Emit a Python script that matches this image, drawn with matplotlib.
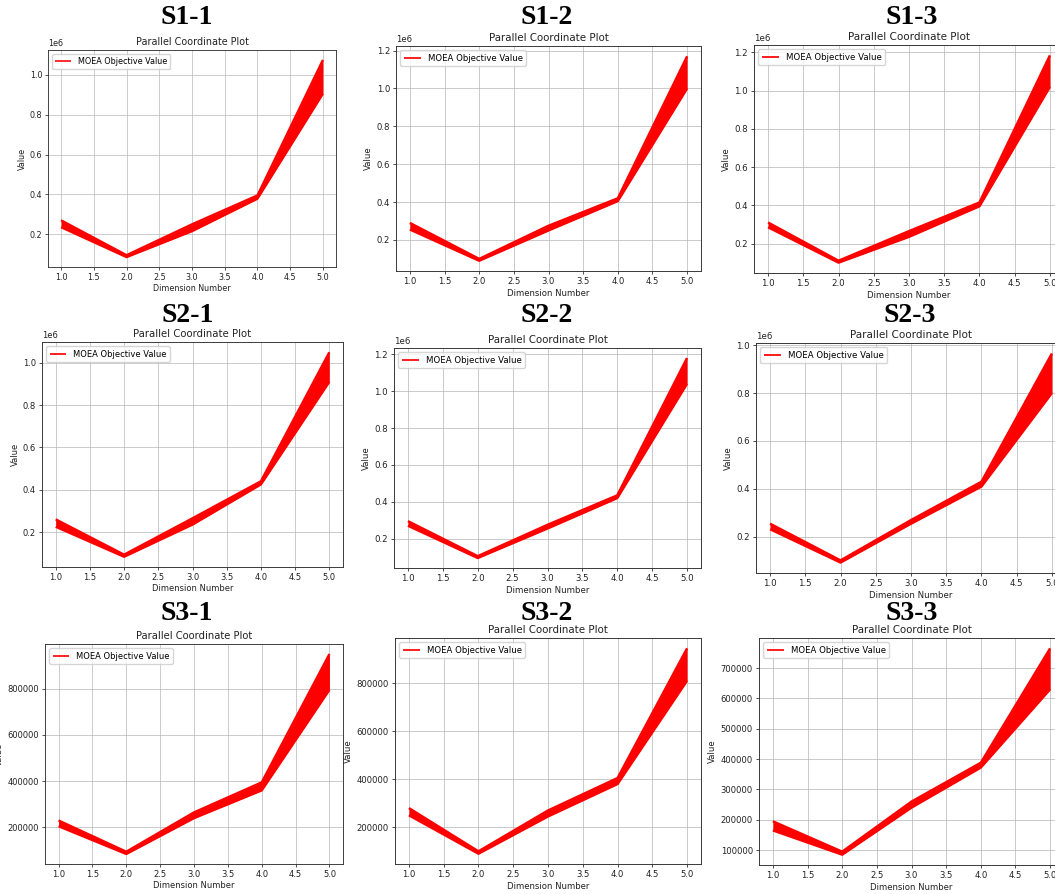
import matplotlib
matplotlib.use("Agg")
import matplotlib.pyplot as plt

# ---- data ----
dims = [1, 2, 3, 4, 5]
panel_names = ["S1-1", "S1-2", "S1-3", "S2-1", "S2-2", "S2-3", "S3-1", "S3-2", "S3-3"]

# lower / upper envelope of the MOEA objective values at each dimension
s11_lo = [235000, 85000, 215000, 378000, 905000]
s11_hi = [270000, 95000, 250000, 395000, 1075000]
s12_lo = [255000, 90000, 250000, 405000, 1000000]
s12_hi = [290000, 100000, 275000, 420000, 1170000]
s13_lo = [285000, 100000, 235000, 395000, 1020000]
s13_hi = [310000, 110000, 265000, 415000, 1185000]
s21_lo = [225000, 83000, 235000, 425000, 910000]
s21_hi = [260000, 93000, 265000, 440000, 1050000]
s22_lo = [270000, 95000, 255000, 420000, 1040000]
s22_hi = [295000, 105000, 275000, 435000, 1180000]
s23_lo = [232000, 93000, 255000, 410000, 800000]
s23_hi = [255000, 102000, 270000, 430000, 965000]
s31_lo = [205000, 85000, 240000, 360000, 795000]
s31_hi = [230000, 95000, 265000, 395000, 950000]
s32_lo = [250000, 90000, 245000, 380000, 810000]
s32_hi = [280000, 100000, 270000, 405000, 945000]
s33_lo = [165000, 85000, 240000, 372000, 630000]
s33_hi = [195000, 95000, 260000, 388000, 765000]

lows = [s11_lo, s12_lo, s13_lo, s21_lo, s22_lo, s23_lo, s31_lo, s32_lo, s33_lo]
highs = [s11_hi, s12_hi, s13_hi, s21_hi, s22_hi, s23_hi, s31_hi, s32_hi, s33_hi]

# ---- layout (pixel boxes: left, right, top, bottom) ----
W, H = 1055, 894
boxes = [
    (48, 336, 50, 267), (396, 701, 46, 271), (754, 1064, 45, 273),
    (42, 343, 342, 567), (394, 701, 348, 568), (756, 1066, 343, 573),
    (45, 343, 644, 864), (395, 701, 638, 864), (759, 1064, 638, 865),
]
head_pos = [
    (187, 18), (547, 18), (912, 18),
    (188, 316), (547, 316), (910, 316),
    (187, 613), (547, 613), (912, 613),
]

fig = plt.figure(figsize=(W / 100, H / 100), dpi=100)
fig.patch.set_facecolor("white")

for i in range(9):
    l, r, t, b = boxes[i]
    ax = fig.add_axes([l / W, 1 - b / H, (r - l) / W, (b - t) / H])
    s = (r - l) / 496.0
    ax.fill_between(dims, lows[i], highs[i], color="red", lw=0, zorder=2)
    ax.plot(dims, lows[i], color="red", lw=2.8 * s, zorder=2,
            solid_joinstyle="round", solid_capstyle="butt")
    ax.plot(dims, highs[i], color="red", lw=2.8 * s, zorder=2,
            solid_joinstyle="round", solid_capstyle="butt",
            label="MOEA Objective Value")
    ax.grid(True, color="#bcbcbc", lw=0.9 * s)
    ax.set_title("Parallel Coordinate Plot", fontsize=12 * s, pad=6 * s,
                 color="#222222")
    ax.set_xlabel("Dimension Number", fontsize=10 * s, labelpad=3 * s,
                  color="#222222")
    ax.set_ylabel("Value", fontsize=10 * s, labelpad=4 * s, color="#222222")
    ax.tick_params(labelsize=10 * s, width=0.8 * s, length=3.5 * s, pad=3.5 * s,
                   labelcolor="#222222")
    ax.yaxis.get_offset_text().set_fontsize(10 * s)
    for sp in ax.spines.values():
        sp.set_linewidth(1.1 * s)
        sp.set_color("#333333")
    leg = ax.legend(loc="upper left", fontsize=10 * s, handlelength=2.0)
    for ln in leg.get_lines():
        ln.set_linewidth(2.0 * s)
    hx, hy = head_pos[i]
    fig.text(hx / W, 1 - hy / H, panel_names[i], ha="center", va="center",
             fontsize=20, fontweight="bold", family=["Liberation Serif", "DejaVu Serif"])

fig.savefig("out.png", dpi=100)
